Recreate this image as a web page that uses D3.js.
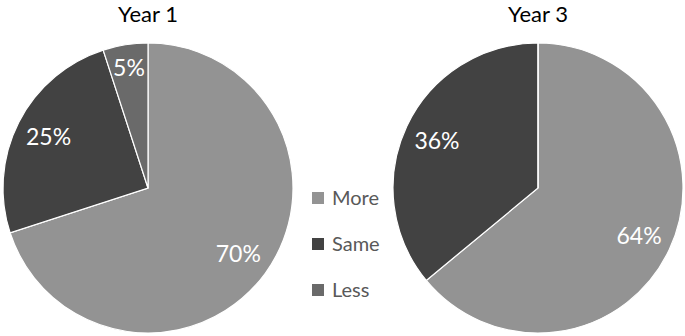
<!DOCTYPE html>
<html><head><meta charset="utf-8">
<script src="https://cdn.jsdelivr.net/npm/d3@7"></script>
<style>body{margin:0;background:#fff}svg{display:block}</style>
</head><body>
<script>
const categories = ["More", "Same", "Less"];
const titles = ["Year 1", "Year 3"];
const year1 = [70, 25, 5];
const year3 = [64, 36, 0];
const colors = ["#939393", "#424242", "#6a6a6a"];

const W = 685, H = 336;
const svg = d3.select("body").append("svg").attr("width", W).attr("height", H);
const font = "Lato, 'Open Sans', sans-serif";

const pie = d3.pie().sort(null).value(d => d);
const R = 145;
const arc = d3.arc().innerRadius(0).outerRadius(R);
const labelArc = d3.arc().innerRadius(R * 0.77).outerRadius(R * 0.77);
const smallLabelArc = d3.arc().innerRadius(R * 0.84).outerRadius(R * 0.84);
const color = d3.scaleOrdinal().domain(categories).range(colors);

const pies = [
  {title: titles[0], values: year1, cx: 148, cy: 188},
  {title: titles[1], values: year3, cx: 538, cy: 188}
];

pies.forEach(p => {
  svg.append("text").attr("x", p.cx).attr("y", 22).attr("text-anchor", "middle")
    .attr("font-family", font).attr("font-size", 22).attr("fill", "#000").text(p.title);
  const g = svg.append("g").attr("transform", `translate(${p.cx},${p.cy})`);
  const arcs = pie(p.values);
  g.selectAll("path").data(arcs).join("path")
    .attr("d", arc).attr("fill", (d, i) => color(categories[i]))
    .attr("stroke", "#fff").attr("stroke-width", 1.2);
  g.selectAll("text").data(arcs.filter(d => d.value > 0)).join("text")
    .attr("transform", d => {
      const c = (d.value < 10 ? smallLabelArc : labelArc).centroid(d);
      return `translate(${c[0]},${c[1]})`;
    })
    .attr("text-anchor", "middle").attr("dy", "0.35em")
    .attr("font-family", font).attr("font-size", 23).attr("fill", "#fff")
    .text(d => d.value + "%");
});

const legendY = d3.scalePoint().domain(categories).range([198, 290]);
const lg = svg.append("g");
categories.forEach(c => {
  lg.append("rect").attr("x", 312).attr("y", legendY(c) - 6).attr("width", 12).attr("height", 12).attr("fill", color(c));
  lg.append("text").attr("x", 332).attr("y", legendY(c)).attr("dy", "0.35em")
    .attr("font-family", font).attr("font-size", 20).attr("fill", "#595959").text(c);
});
</script>
</body></html>
